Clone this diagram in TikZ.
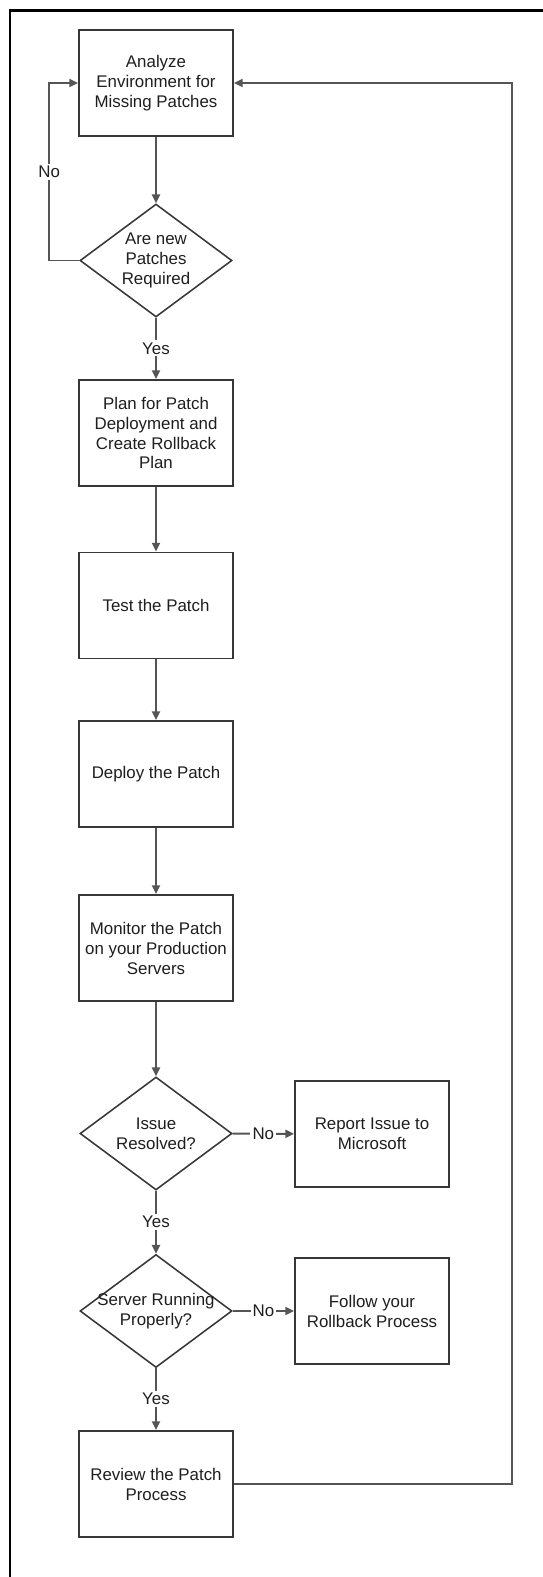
\documentclass[tikz,border=0pt]{standalone}
\usepackage{fontspec}
\setmainfont{Liberation Sans}
\definecolor{flowedge}{RGB}{55,55,55}
\definecolor{flowline}{RGB}{85,85,85}
\definecolor{flowtext}{RGB}{30,30,30}
\usetikzlibrary{arrows.meta,positioning,shapes.geometric}

\begin{document}
\begin{tikzpicture}[
  stepbox/.style={draw=flowedge, line width=1.3pt, minimum width=3.85cm, minimum height=2.65cm, align=center, text=flowtext, font=\fontsize{12}{14.2}\selectfont},
  decision/.style={diamond, draw=flowedge, line width=1.1pt, minimum width=3.8cm, minimum height=2.825cm, inner sep=0pt},
  dlabel/.style={align=center, text=flowtext, font=\fontsize{12}{14.2}\selectfont},
  flow/.style={draw=flowline, line width=1.4pt, -{Triangle[length=0.22cm,width=0.2cm]}},
  answer/.style={fill=white, inner sep=1.5pt, text=flowtext, font=\fontsize{12}{14.2}\selectfont}
]
  \useasboundingbox (0,0) rectangle (13.575,-39.425);
  \draw[line width=1.9pt] (0.25,-39.6) -- (0.25,-0.2675) -- (13.7,-0.2675);

  \node[stepbox] (analyze) at (3.9,-2.075) {Analyze\\Environment for\\Missing Patches};
  \node[decision, label={[dlabel]center:{Are new\\Patches\\Required}}] (needq) at (3.9,-6.5125) {};
  \node[stepbox] (plan) at (3.9,-10.825) {Plan for Patch\\Deployment and\\Create Rollback\\Plan};
  \node[stepbox] (test) at (3.9,-15.1375) {Test the Patch};
  \node[stepbox] (deploy) at (3.9,-19.35) {Deploy the Patch};
  \node[stepbox] (monitor) at (3.9,-23.7) {Monitor the Patch\\on your Production\\Servers};
  \node[decision, label={[dlabel]center:{Issue\\Resolved?}}] (issueq) at (3.9,-28.3375) {};
  \node[stepbox] (report) at (9.3,-28.35) {Report Issue to\\Microsoft};
  \node[decision, label={[dlabel]center:{Server Running\\Properly?}}] (serverq) at (3.9,-32.775) {};
  \node[stepbox] (rollback) at (9.3,-32.775) {Follow your\\Rollback Process};
  \node[stepbox] (review) at (3.9,-37.1) {Review the Patch\\Process};

  \draw[flow] (analyze) -- (needq);
  \draw[flow] (needq.west) -- ++(-0.75,0) |- node[answer, pos=0.25] {No} (analyze.west);
  \draw[flow] (needq) -- node[answer] {Yes} (plan);
  \draw[flow] (plan) -- (test);
  \draw[flow] (test) -- (deploy);
  \draw[flow] (deploy) -- (monitor);
  \draw[flow] (monitor) -- (issueq);
  \draw[flow] (issueq) -- node[answer] {No} (report);
  \draw[flow] (issueq) -- node[answer] {Yes} (serverq);
  \draw[flow] (serverq) -- node[answer] {No} (rollback);
  \draw[flow] (serverq) -- node[answer] {Yes} (review);
  \draw[flow] (review.east) -- ++(6.95,0) |- (analyze.east);
\end{tikzpicture}
\end{document}
